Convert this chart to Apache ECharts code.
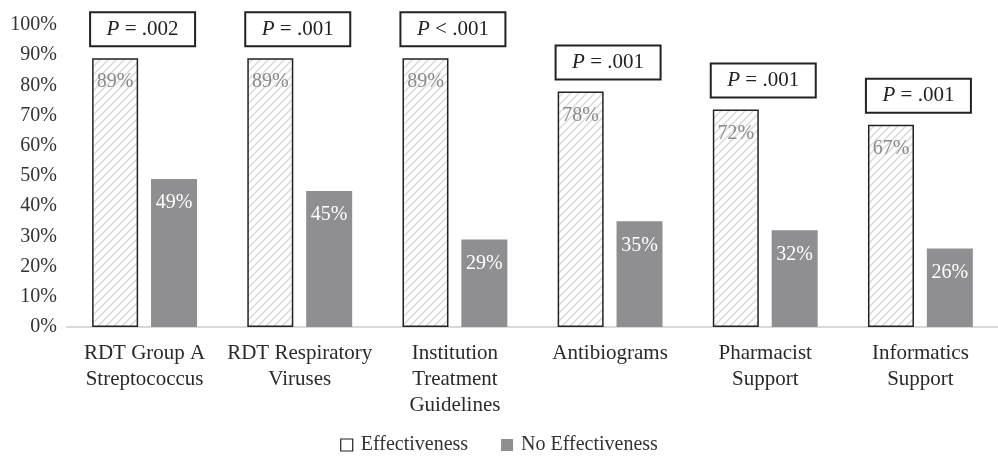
<!DOCTYPE html>
<html>
<head>
<meta charset="utf-8">
<script src="https://cdn.jsdelivr.net/npm/echarts@6/dist/echarts.min.js"></script>
<style>
  html, body { margin: 0; padding: 0; background: #fff; }
  #chart { width: 998px; height: 456px; }
</style>
</head>
<body>
<div id="chart"></div>
<script>
var categories = [
  'RDT Group A\nStreptococcus',
  'RDT Respiratory\nViruses',
  'Institution\nTreatment\nGuidelines',
  'Antibiograms',
  'Pharmacist\nSupport',
  'Informatics\nSupport'
];
var effectiveness = [89, 89, 89, 78, 72, 67];
var noEffectiveness = [49, 45, 29, 35, 32, 26];
var pOps = ['=', '=', '<', '=', '=', '='];
var pValues = ['.002', '.001', '.001', '.001', '.001', '.001'];

var FONT = '"Liberation Serif", "DejaVu Serif", serif';

// diagonal hatch for the Effectiveness bars
var hatch = document.createElement('canvas');
hatch.width = 8; hatch.height = 8;
var ctx = hatch.getContext('2d');
ctx.fillStyle = '#fff';
ctx.fillRect(0, 0, 8, 8);
ctx.strokeStyle = '#dedede';
ctx.lineWidth = 1.6;
ctx.beginPath();
ctx.moveTo(0, 8); ctx.lineTo(8, 0);
ctx.moveTo(-2, 2); ctx.lineTo(2, -2);
ctx.moveTo(6, 10); ctx.lineTo(10, 6);
ctx.stroke();

var chart = echarts.init(document.getElementById('chart'));

var option = {
  animation: false,
  textStyle: { fontFamily: FONT },
  grid: { left: 67, width: 938, top: 25, bottom: 129, containLabel: false },
  legend: {
    top: 430,
    left: 'center',
    itemWidth: 12,
    itemHeight: 12,
    itemGap: 33,
    textStyle: { fontFamily: FONT, fontSize: 20, color: '#333', padding: [0, 0, 0, 3] },
    data: [
      { name: 'Effectiveness', icon: 'rect', itemStyle: { color: '#fff', borderColor: '#222', borderWidth: 1.2 } },
      { name: 'No Effectiveness', icon: 'rect' }
    ]
  },
  xAxis: {
    type: 'category',
    data: categories,
    axisLine: { lineStyle: { color: '#d9d9d9', width: 2 } },
    axisTick: { show: false },
    axisLabel: {
      interval: 0,
      margin: 13,
      fontFamily: FONT,
      fontSize: 21,
      lineHeight: 26,
      color: '#2a2a2a'
    }
  },
  yAxis: {
    type: 'value',
    min: 0,
    max: 100,
    interval: 10,
    splitLine: { show: false },
    axisLine: { show: false },
    axisTick: { show: false },
    axisLabel: {
      formatter: '{value}%',
      margin: 10,
      fontFamily: FONT,
      fontSize: 20,
      color: '#333'
    }
  },
  series: [
    {
      name: 'Effectiveness',
      type: 'bar',
      data: effectiveness,
      barWidth: 46,
      barGap: '28%',
      itemStyle: {
        color: { image: hatch, repeat: 'repeat' },
        borderColor: '#222',
        borderWidth: 1.5
      },
      label: {
        show: true,
        position: 'insideTop',
        distance: 14,
        formatter: '{c}%',
        fontFamily: FONT,
        fontSize: 20,
        fontWeight: 'normal',
        color: '#8a8a8a'
      }
    },
    {
      name: 'No Effectiveness',
      type: 'bar',
      data: noEffectiveness,
      barWidth: 46,
      itemStyle: { color: '#8f8f92' },
      label: {
        show: true,
        position: 'insideTop',
        distance: 14,
        formatter: '{c}%',
        fontFamily: FONT,
        fontSize: 20,
        fontWeight: 'normal',
        color: '#fff'
      }
    },
    {
      name: 'P',
      type: 'custom',
      silent: true,
      z: 5,
      data: effectiveness.map(function (v, i) { return [i, v]; }),
      renderItem: function (params, api) {
        var i = api.value(0);
        var pt = api.coord([i, api.value(1)]);
        var w = 105, h = 34;
        var cx = pt[0] - 2;
        var bottom = Math.max(pt[1] - 12, 9 + h);
        return {
          type: 'group',
          children: [
            {
              type: 'rect',
              shape: { x: cx - w / 2, y: bottom - h, width: w, height: h },
              style: { fill: '#fff', stroke: '#222', lineWidth: 2 }
            },
            {
              type: 'text',
              style: {
                x: cx,
                y: bottom - h / 2,
                text: '{i|P} ' + pOps[i] + ' ' + pValues[i],
                align: 'center',
                verticalAlign: 'middle',
                fontFamily: FONT,
                fontSize: 21,
                fill: '#222',
                rich: {
                  i: { fontStyle: 'italic', fontFamily: FONT, fontSize: 21, fill: '#222' }
                }
              }
            }
          ]
        };
      }
    }
  ]
};

chart.setOption(option);
</script>
</body>
</html>
